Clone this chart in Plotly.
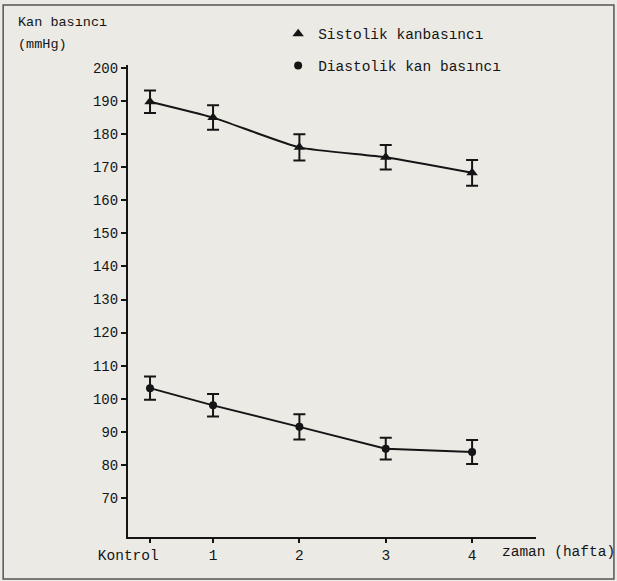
import plotly.graph_objects as go

# Data
week_labels = ["Kontrol", "1", "2", "3", "4"]
week_pos = [0.27, 1, 2, 3, 4]
systolic = [189.8, 185.0, 176.0, 173.0, 168.3]
systolic_err = [3.4, 3.7, 4.0, 3.7, 3.9]
diastolic = [103.2, 98.0, 91.5, 84.9, 83.9]
diastolic_err = [3.5, 3.4, 3.8, 3.3, 3.6]
y_ticks = list(range(70, 201, 10))

ink = "#151515"
bg = "#ebeae5"
mono = "'Liberation Mono', 'DejaVu Sans Mono', monospace"

fig = go.Figure()

fig.add_trace(go.Scatter(
    x=week_pos, y=systolic, mode="lines+markers",
    line=dict(color=ink, width=2, shape="spline", smoothing=0.5),
    marker=dict(symbol="triangle-up", size=10, color=ink),
    error_y=dict(type="data", array=systolic_err, color=ink, thickness=2, width=6),
    showlegend=False,
))
fig.add_trace(go.Scatter(
    x=week_pos, y=diastolic, mode="lines+markers",
    line=dict(color=ink, width=2),
    marker=dict(symbol="circle", size=8, color=ink),
    error_y=dict(type="data", array=diastolic_err, color=ink, thickness=2, width=6),
    showlegend=False,
))
# legend entries
fig.add_trace(go.Scatter(x=[None], y=[None], mode="markers", name="Sistolik kanbasıncı",
                         marker=dict(symbol="triangle-up", size=10, color=ink), legendgroup="a"))
fig.add_trace(go.Scatter(x=[None], y=[None], mode="markers", name="Diastolik kan basıncı",
                         marker=dict(symbol="circle", size=8, color=ink), legendgroup="b"))

fig.update_layout(
    width=617, height=581,
    margin=dict(l=128, r=81, t=65, b=44, autoexpand=False),
    paper_bgcolor=bg, plot_bgcolor=bg,
    font=dict(family=mono, size=14, color=ink),
    legend=dict(x=0.368, y=1.1, xanchor="left", yanchor="top",
                bgcolor="rgba(0,0,0,0)", traceorder="grouped", tracegroupgap=10,
                font=dict(family=mono, size=14.5, color=ink)),
    xaxis=dict(
        range=[0.015, 4.74], tickmode="array", tickvals=week_pos,
        ticktext=["Kontrol\u00a0\u00a0\u00a0\u00a0\u00a0"] + week_labels[1:],
        showline=True, linecolor=ink, linewidth=2, ticks="outside", ticklen=4,
        tickcolor=ink, tickwidth=1.5, showgrid=False, zeroline=False,
        tickfont=dict(family=mono, size=14.5, color=ink),
    ),
    yaxis=dict(
        range=[58.2, 200.9], tickmode="array", tickvals=y_ticks,
        showline=True, linecolor=ink, linewidth=2, ticks="outside", ticklen=5,
        tickcolor=ink, tickwidth=2, showgrid=False, zeroline=False,
        tickfont=dict(family=mono, size=14, color=ink),
    ),
    annotations=[
        dict(text="Kan basıncı", xref="paper", yref="paper", x=-0.275, y=1.09,
             xanchor="left", yanchor="middle", showarrow=False,
             font=dict(family=mono, size=13.5, color=ink)),
        dict(text="(mmHg)", xref="paper", yref="paper", x=-0.275, y=1.043,
             xanchor="left", yanchor="middle", showarrow=False,
             font=dict(family=mono, size=13.5, color=ink)),
        dict(text="zaman (hafta)", xref="paper", yref="paper", x=0.912, y=-0.032,
             xanchor="left", yanchor="middle", showarrow=False,
             font=dict(family=mono, size=14.5, color=ink)),
    ],
    shapes=[
        dict(type="rect", xref="paper", yref="paper", x0=-0.306, x1=1.191,
             y0=-0.089, y1=1.127, line=dict(color="#555", width=1.5)),
    ],
)

fig.write_html("out.html", config={"displayModeBar": False},
               post_script="document.body.style.margin='0';")
